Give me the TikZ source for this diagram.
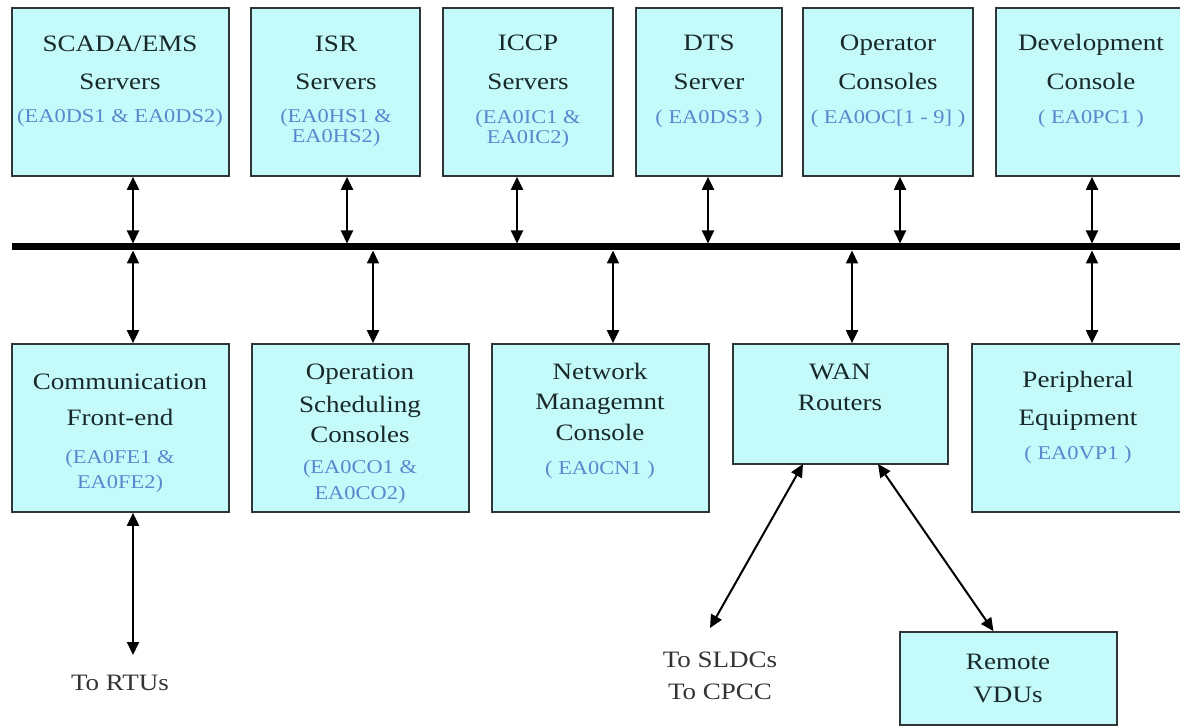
\documentclass[tikz,border=0pt]{standalone}
\usepackage{fontspec}
\setmainfont{Liberation Serif}[FakeStretch=1.15]
\usetikzlibrary{arrows.meta,calc}

\definecolor{boxfill}{RGB}{196,250,250}
\definecolor{boxline}{RGB}{45,55,55}
\definecolor{idblue}{RGB}{90,135,205}
\definecolor{inkdark}{RGB}{25,40,40}

% a unit box given by its corners: name, x1, y1, x2, y2
\newcommand\unitbox[5]{%
  \node[unit, minimum width={(#4)-(#2)}, minimum height={(#5)-(#3)}]
    (#1) at ({((#2)+(#4))/2},{((#3)+(#5))/2}) {};}

\begin{document}
\begin{tikzpicture}[x=1pt,y=-1pt,
  unit/.style={draw=boxline, line width=1.7pt, fill=boxfill, inner sep=0pt},
  title/.style={font=\fontsize{23.5}{25}\selectfont, text=inkdark, anchor=base, inner sep=0pt},
  ident/.style={font=\fontsize{19.5}{21}\selectfont, text=idblue, anchor=base, inner sep=0pt},
  note/.style={font=\fontsize{23.5}{25}\selectfont, text=black!80, anchor=base, inner sep=0pt},
  link/.style={line width=2pt, draw=black,
    {Triangle[length=13pt,width=12pt]}-{Triangle[length=13pt,width=12pt]}},
  bus/.style={line width=7pt, draw=black}
]
\path[use as bounding box] (0,0) rectangle (1180,727);
\clip (0,0) rectangle (1180,727);

% ---- servers and consoles above the LAN ----
\unitbox{scada}{12}{8}{229}{176}
\unitbox{isr}{251}{8}{420}{176}
\unitbox{iccp}{443}{8}{613}{176}
\unitbox{dts}{636}{8}{782}{176}
\unitbox{opcon}{803}{8}{973}{176}
\unitbox{devcon}{996}{8}{1190}{176}

% ---- equipment below the LAN ----
\unitbox{cfe}{12}{344}{229}{512}
\unitbox{osc}{252}{344}{469}{512}
\unitbox{nmc}{492}{344}{709}{512}
\unitbox{wan}{733}{344}{948}{464}
\unitbox{periph}{972}{344}{1190}{512}
\unitbox{rvdu}{900}{632}{1117}{725}

% ---- LAN bus ----
\coordinate (busL) at (12,247);
\coordinate (busR) at (1190,247);
\draw[bus] (busL) -- (busR);

% attachment points on the bus (upper and lower edges)
\foreach \n/\x in {t1/133,t2/347,t3/517,t4/708,t5/900,t6/1092}
  \coordinate (\n) at (\x,243.5);
\foreach \n/\x in {u1/133,u2/373,u3/613,u4/852,u5/1092}
  \coordinate (\n) at (\x,250.5);

\draw[link] (scada.south -| t1) -- (t1);
\draw[link] (isr.south -| t2) -- (t2);
\draw[link] (iccp.south -| t3) -- (t3);
\draw[link] (dts.south -| t4) -- (t4);
\draw[link] (opcon.south -| t5) -- (t5);
\draw[link] (devcon.south -| t6) -- (t6);

\draw[link] (u1) -- (cfe.north -| u1);
\draw[link] (u2) -- (osc.north -| u2);
\draw[link] (u3) -- (nmc.north -| u3);
\draw[link] (u4) -- (wan.north -| u4);
\draw[link] (u5) -- (periph.north -| u5);

% ---- external links ----
\coordinate (rtuEnd) at (133,655);
\draw[link] (cfe.south -| rtuEnd) -- (rtuEnd);
\coordinate (wanL) at (803,464);
\coordinate (wanR) at (878,464);
\coordinate (sldcEnd) at (710,628);
\draw[link] (wanL) -- (sldcEnd);
\draw[link] (wanR) -- ($(rvdu.north)+(-15,0)$);

% ---- texts ----
\node[title] (scada-a) at (120,52) {SCADA/EMS};
\node[title] (scada-b) at (120,90) {Servers};
\node[ident] (scada-c) at (120,123) {(EA0DS1 \& EA0DS2)};

\node[title] (isr-a) at (336,52) {ISR};
\node[title] (isr-b) at (336,90) {Servers};
\node[ident] (isr-c) at (336,123) {(EA0HS1 \&};
\node[ident] (isr-d) at (336,143) {EA0HS2)};

\node[title] (iccp-a) at (528,51) {ICCP};
\node[title] (iccp-b) at (528,90) {Servers};
\node[ident] (iccp-c) at (528,124) {(EA0IC1 \&};
\node[ident] (iccp-d) at (528,144) {EA0IC2)};

\node[title] (dts-a) at (709,51) {DTS};
\node[title] (dts-b) at (709,90) {Server};
\node[ident] (dts-c) at (709,124) {( EA0DS3 )};

\node[title] (opcon-a) at (888,51) {Operator};
\node[title] (opcon-b) at (888,90) {Consoles};
\node[ident] (opcon-c) at (888,124) {( EA0OC[1 - 9] )};

\node[title] (devcon-a) at (1091,51) {Development};
\node[title] (devcon-b) at (1091,90) {Console};
\node[ident] (devcon-c) at (1091,124) {( EA0PC1 )};

\node[title] (cfe-a) at (120,389) {Communication};
\node[title] (cfe-b) at (120,425) {Front-end};
\node[ident] (cfe-c) at (120,463) {(EA0FE1 \&};
\node[ident] (cfe-d) at (120,488) {EA0FE2)};

\node[title] (osc-a) at (360,379) {Operation};
\node[title] (osc-b) at (360,412) {Scheduling};
\node[title] (osc-c) at (360,442) {Consoles};
\node[ident] (osc-d) at (360,473) {(EA0CO1 \&};
\node[ident] (osc-e) at (360,499) {EA0CO2)};

\node[title] (nmc-a) at (600,379) {Network};
\node[title] (nmc-b) at (600,409) {Managemnt};
\node[title] (nmc-c) at (600,440) {Console};
\node[ident] (nmc-d) at (600,474) {( EA0CN1 )};

\node[title] (wan-a) at (840,379) {WAN};
\node[title] (wan-b) at (840,410) {Routers};

\node[title] (periph-a) at (1078,387) {Peripheral};
\node[title] (periph-b) at (1078,425) {Equipment};
\node[ident] (periph-c) at (1078,459) {( EA0VP1 )};

\node[title] (rvdu-a) at (1008,669) {Remote};
\node[title] (rvdu-b) at (1008,702) {VDUs};

\node[note] (rtu) at (120,690) {To RTUs};
\node[note] (sldc) at (720,667) {To SLDCs};
\node[note] (cpcc) at (720,699) {To CPCC};
\end{tikzpicture}
\end{document}
